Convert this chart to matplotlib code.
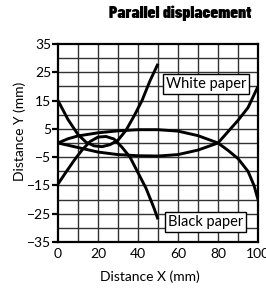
import matplotlib

matplotlib.use("Agg")
import matplotlib.pyplot as plt

# curve readings (Distance X, Distance Y in mm)
white_x = [0, 5, 10, 14, 18, 22, 26, 30, 34, 38, 42, 46, 50]
white_y = [15, 8.3, 3, 0.3, -1.0, -1.3, -0.6, 1, 4.5, 9.5, 15, 22, 28]

black_x = [0, 4, 8, 12, 16, 20, 24, 28, 32, 36, 40, 44, 48, 50]
black_y = [-14.5, -10.3, -6.2, -2.5, 0.5, 2.1, 2.3, 1.4, -1.5, -5, -10.5, -16, -23, -27]

lens_x = [0, 5, 10, 20, 30, 40, 50, 60, 70, 80, 85, 90, 95, 98, 100]
lens_upper_y = [0, 1.5, 2.5, 3.6, 4.3, 4.7, 4.7, 4.2, 2.6, 0, -2.6, -5.5, -10, -15, -20]
lens_lower_y = [0, -0.8, -1.6, -3.2, -4.1, -4.5, -4.6, -4.1, -2.5, 0, 4, 8, 12.5, 17, 20]

y_ticks = [35, 25, 15, 5, -5, -15, -25, -35]
x_ticks = [0, 20, 40, 60, 80, 100]

FONT = "Lato"
TITLE_FONT = ["Barlow Condensed", "DejaVu Sans"]

fig = plt.figure(figsize=(2.66, 2.93), dpi=100)
ax = fig.add_axes([58 / 266, 1 - 242 / 293, 200 / 266, 198 / 293])

ax.set_xlim(0, 100)
ax.set_ylim(-35, 35)

# grid: every 10 mm in X, every 5 mm in Y
for gx in range(10, 100, 10):
    ax.axvline(gx, color="#333333", lw=1.0, zorder=1)
for gy in range(-30, 35, 5):
    ax.axhline(gy, color="#333333", lw=1.0, zorder=1)

for xs, ys in [(white_x, white_y), (black_x, black_y),
               (lens_x, lens_upper_y), (lens_x, lens_lower_y)]:
    ax.plot(xs, ys, color="black", lw=2.1, solid_capstyle="butt",
            solid_joinstyle="round", zorder=3)

box = dict(boxstyle="square,pad=0.2", fc="white", ec="black", lw=1.0)
ax.text(53.8, 21, "White paper", fontsize=10.5, family=FONT, va="center",
        ha="left", bbox=box, zorder=4)
ax.text(54.8, -27.8, "Black paper", fontsize=10.5, family=FONT, va="center",
        ha="left", bbox=box, zorder=4)

for s in ax.spines.values():
    s.set_linewidth(1.6)

ax.set_yticks(y_ticks)
ax.set_yticklabels([str(v).replace("-", "\u2212") for v in y_ticks], family=FONT, fontsize=10)
ax.set_xticks(x_ticks)
ax.set_xticklabels([str(v) for v in x_ticks], family=FONT, fontsize=10)
ax.tick_params(axis="y", length=4, width=1.6, pad=1)
ax.tick_params(axis="x", length=0, pad=4)

for lab in ax.get_xticklabels():
    lab.set_clip_on(False)

fig.text(150 / 266, 1 - 277 / 293, "Distance X (mm)", family=FONT, fontsize=10,
         ha="center", va="center")
fig.text(20 / 266, 1 - 131 / 293, "Distance Y (mm)", family=FONT, fontsize=10,
         ha="center", va="center", rotation=90)
fig.text(180 / 266, 1 - 13 / 293, "Parallel displacement", family=TITLE_FONT,
         fontweight="black", fontsize=12.5, ha="center", va="center")

fig.savefig("out.png", dpi=100)
